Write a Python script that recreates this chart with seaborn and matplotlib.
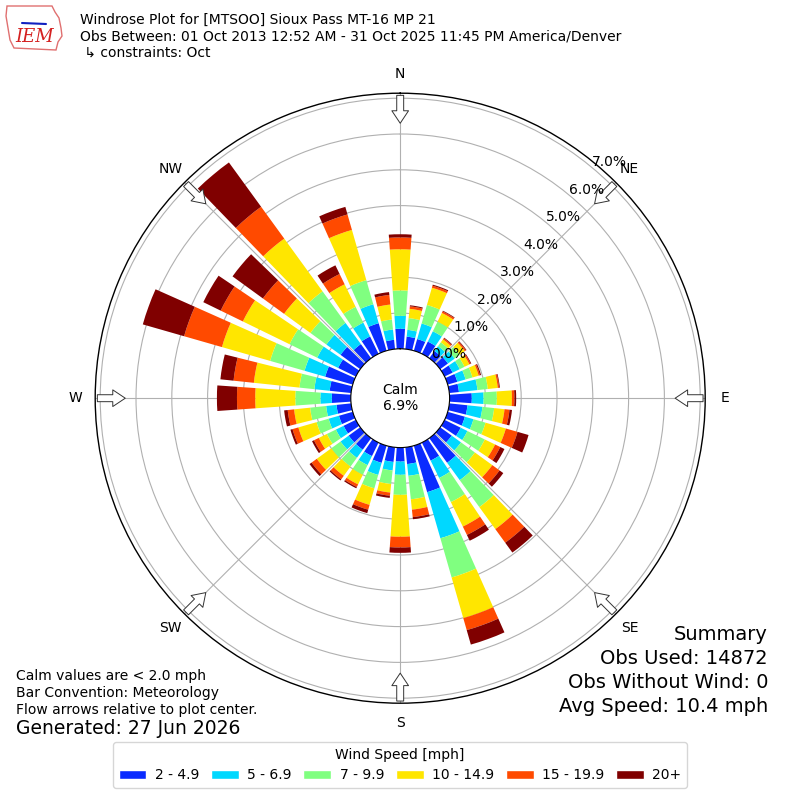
import numpy as np
import pandas as pd
import matplotlib
matplotlib.use("Agg")
import matplotlib.pyplot as plt
from matplotlib.patches import Patch, Polygon
from matplotlib.transforms import offset_copy
import seaborn as sns

# wind direction bins (degrees, meteorology convention)
directions = list(range(0, 360, 10))
speed_labels = ["2 - 4.9", "5 - 6.9", "7 - 9.9", "10 - 14.9", "15 - 19.9", "20+"]
speed_colors = ["#0a2bff", "#00d8ff", "#80ff80", "#ffe600", "#ff4a00", "#800000"]

# cumulative frequency [%] at the top of each speed bin, per direction
cum_2_5 = [0.56, 0.35, 0.34, 0.38, 0.25, 0.27, 0.25, 0.28, 0.27, 0.62, 0.51, 0.50,
           0.50, 0.40, 0.85, 0.56, 1.35, 0.47, 0.39, 0.41, 0.50, 0.42, 0.40, 0.40,
           0.38, 0.40, 0.41, 0.53, 0.60, 0.80, 0.55, 0.68, 0.49, 0.54, 0.80, 0.26]
cum_5_7 = [0.92, 0.54, 0.79, 0.70, 0.42, 0.50, 0.47, 0.52, 0.79, 0.95, 0.93, 0.75,
           0.71, 0.72, 1.45, 1.10, 2.69, 0.80, 0.76, 0.65, 0.85, 0.70, 0.68, 0.68,
           0.62, 0.70, 0.70, 0.85, 1.03, 1.40, 1.20, 1.17, 1.22, 0.97, 1.35, 0.55]
cum_7_10 = [1.63, 0.87, 1.33, 1.00, 0.55, 0.68, 0.62, 0.72, 1.08, 1.32, 1.26, 1.10,
            1.25, 1.20, 2.38, 1.85, 3.83, 1.46, 1.32, 1.03, 1.24, 1.00, 0.98, 1.00,
            0.90, 1.05, 1.15, 1.55, 1.45, 2.40, 2.06, 1.72, 2.31, 1.46, 2.05, 0.83]
cum_10_15 = [2.78, 1.13, 1.83, 1.27, 0.65, 0.85, 0.77, 0.90, 1.36, 1.74, 1.55, 1.69,
             1.57, 1.80, 3.14, 2.61, 5.01, 1.75, 2.49, 1.27, 1.72, 1.30, 1.30, 1.50,
             1.15, 1.58, 1.60, 2.67, 2.73, 3.80, 3.51, 2.63, 4.13, 2.16, 3.51, 1.25]
cum_15_20 = [3.11, 1.20, 1.89, 1.32, 0.69, 0.89, 0.81, 0.94, 1.40, 1.81, 1.69, 2.03,
             1.73, 2.05, 3.61, 2.87, 5.36, 1.96, 2.79, 1.36, 1.86, 1.38, 1.42, 1.68,
             1.30, 1.75, 1.78, 3.18, 3.30, 4.90, 4.20, 3.36, 5.23, 2.48, 3.96, 1.52]
cum_20_up = [3.20, 1.23, 1.92, 1.34, 0.71, 0.91, 0.83, 0.97, 1.42, 1.86, 1.76, 2.35,
             1.86, 2.18, 3.95, 3.05, 5.78, 2.02, 2.94, 1.42, 1.96, 1.42, 1.46, 1.75,
             1.36, 1.81, 1.88, 3.74, 3.67, 6.10, 4.74, 4.41, 6.76, 2.75, 4.18, 1.60]

compass = ["N", "NE", "E", "SE", "S", "SW", "W", "NW"]
ring_values = [0, 1, 2, 3, 4, 5, 6, 7]
calm_pct = 6.9

df = pd.DataFrame({
    "dir": directions,
    speed_labels[0]: cum_2_5,
    speed_labels[1]: cum_5_7,
    speed_labels[2]: cum_7_10,
    speed_labels[3]: cum_10_15,
    speed_labels[4]: cum_15_20,
    speed_labels[5]: cum_20_up,
})

sns.set_style("white", rc={
    "axes.edgecolor": "black", "text.color": "black", "axes.labelcolor": "black",
    "xtick.color": "black", "ytick.color": "black", "grid.color": "#b0b0b0",
})
plt.rcParams["font.family"] = ["DejaVu Sans"]
palette = sns.color_palette(speed_colors)

fig = plt.figure(figsize=(8, 8), dpi=100)
ax = fig.add_axes([0.119, 0.121, 0.7625, 0.7625], projection="polar")
ax.set_theta_zero_location("N")
ax.set_theta_direction(-1)

theta = np.deg2rad(df["dir"].to_numpy())
width = np.deg2rad(8)
prev = np.zeros(len(df))
for label, color in zip(speed_labels, palette):
    top = df[label].to_numpy()
    ax.bar(theta, top - prev, width=width, bottom=prev, color=color,
           align="center", linewidth=0)
    prev = top

ax.set_rorigin(-1.38)
ax.set_ylim(0, 7.14)
ax.set_thetagrids(range(0, 360, 45), compass, fontsize=10)
ax.set_rgrids(ring_values, labels=[""] * len(ring_values))
ax.grid(True, color="#b0b0b0", lw=0.8)
ax.spines["polar"].set_linewidth(1.0)

# radial labels along the 40 degree ray, nudged off the rings
lab_tr = offset_copy(ax.transData, fig=fig, x=16.5, y=6, units="dots")
for v in ring_values:
    ax.text(np.deg2rad(40), v, f"{v:.1f}%", transform=lab_tr, fontsize=10,
            ha="center", va="center", zorder=5)

# flow arrows pointing to the plot centre
for ang in range(0, 360, 45):
    ax.annotate("", xy=(np.deg2rad(ang), 6.30), xytext=(np.deg2rad(ang), 7.08),
                annotation_clip=False,
                arrowprops=dict(arrowstyle="simple,head_length=0.45,head_width=0.6,tail_width=0.25",
                                fc="white", ec="#333333", lw=0.7, mutation_scale=20,
                                shrinkA=0, shrinkB=0))

ax.text(0.5, 0.5, f"Calm\n{calm_pct:.1f}%", transform=ax.transAxes,
        ha="center", va="center", fontsize=10)

# header
fig.text(0.1, 1 - 20 / 800, "Windrose Plot for [MTSOO] Sioux Pass MT-16 MP 21",
         fontsize=10, va="center")
fig.text(0.1, 1 - 37 / 800,
         "Obs Between: 01 Oct 2013 12:52 AM - 31 Oct 2025 11:45 PM America/Denver",
         fontsize=10, va="center")
fig.text(0.1, 1 - 53 / 800, " \u21b3 constraints: Oct", fontsize=10, va="center")

# rough IEM logo
outline = [(7, 6), (52, 6), (55, 12), (59, 18), (61, 28), (62, 36), (58, 42),
           (56, 50), (14, 48), (10, 40), (8, 28), (6, 16)]
fig.add_artist(Polygon([(x / 800, 1 - y / 800) for x, y in outline], closed=True,
                       fill=False, ec="#e07070", lw=1.0, transform=fig.transFigure))
fig.add_artist(plt.Line2D([22 / 800, 46 / 800], [1 - 23 / 800, 1 - 24 / 800],
                          color="#1020c0", lw=1.5, transform=fig.transFigure))
fig.text(35 / 800, 1 - 37 / 800, "IEM", color="#d42020", fontsize=13,
         family="DejaVu Serif", style="italic", ha="center", va="center")

# footnotes
fig.text(0.02, 1 - 676 / 800, "Calm values are < 2.0 mph", fontsize=10, va="center")
fig.text(0.02, 1 - 693 / 800, "Bar Convention: Meteorology", fontsize=10, va="center")
fig.text(0.02, 1 - 710 / 800, "Flow arrows relative to plot center.", fontsize=10, va="center")
fig.text(0.02, 1 - 729 / 800, "Generated: 27 Jun 2026", fontsize=13.5, va="center")

summary = ["Summary", "Obs Used: 14872", "Obs Without Wind: 0", "Avg Speed: 10.4 mph"]
for i, line in enumerate(summary):
    fig.text(768 / 800, 1 - (635 + 23.7 * i) / 800, line, fontsize=14,
             ha="right", va="center")

handles = [Patch(facecolor=c) for c in palette]
fig.legend(handles, speed_labels, loc="center", bbox_to_anchor=(0.5, 1 - 765 / 800),
           ncol=6, title="Wind Speed [mph]", fontsize=10, title_fontsize=10,
           handletextpad=0.6, columnspacing=0.85, frameon=True)

fig.savefig("out.png", dpi=100)
